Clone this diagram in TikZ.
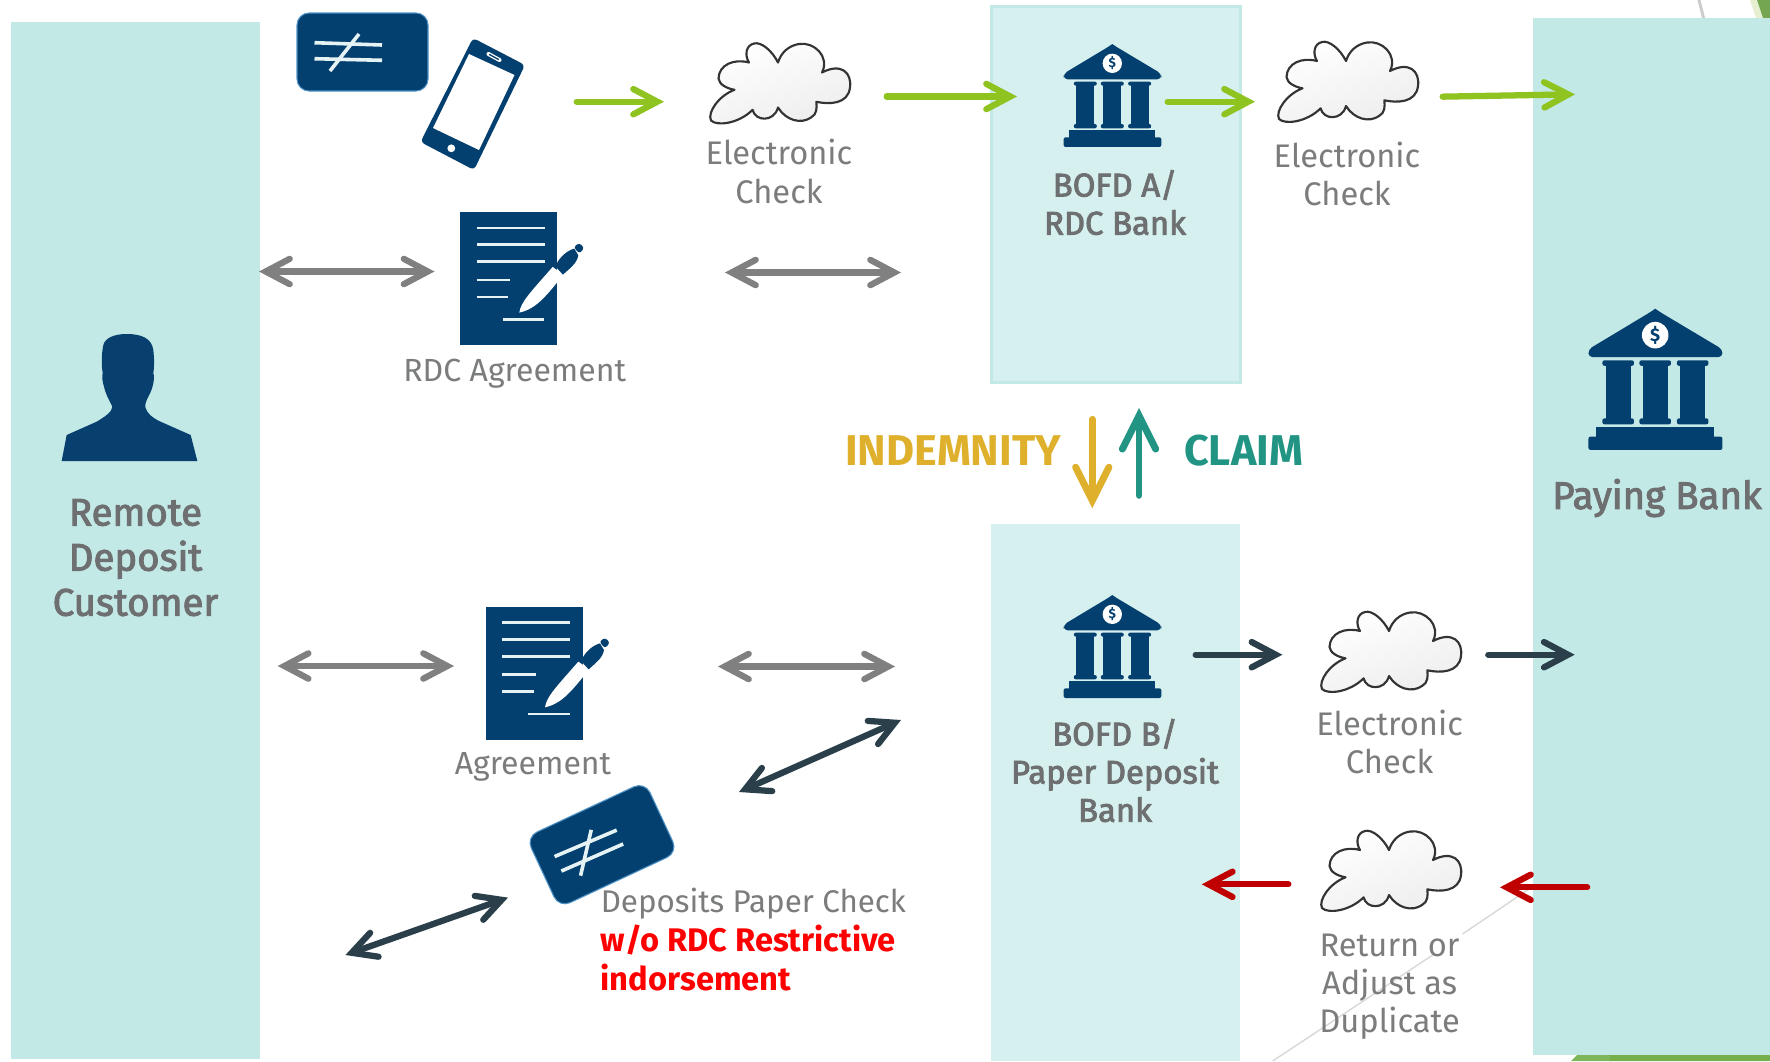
\documentclass[tikz,border=0pt]{standalone}
\usepackage{fontspec}
\setmainfont{Fira Sans}
\newfontfamily\semi[FakeBold=2.6]{Fira Sans}
\usetikzlibrary{arrows.meta}
\definecolor{panel}{HTML}{C3E9E6}
\definecolor{panelL}{HTML}{D5F0EF}
\definecolor{navy}{HTML}{04406F}
\definecolor{cardedge}{HTML}{4F94C8}
\definecolor{icw}{HTML}{E6F3F5}
\definecolor{gtxt}{HTML}{7B7C7D}
\definecolor{gbold}{HTML}{6E6F70}
\definecolor{arrG}{HTML}{8FC31F}
\definecolor{arrK}{HTML}{808080}
\definecolor{arrD}{HTML}{2A3F4A}
\definecolor{arrR}{HTML}{C00000}
\definecolor{yel}{HTML}{DEB02C}
\definecolor{teal2}{HTML}{219483}
\definecolor{grnA}{HTML}{E6EFCF}
\definecolor{grnB}{HTML}{74A550}
\definecolor{grnC}{HTML}{7FB55A}
\definecolor{grnD}{HTML}{76B04A}
\definecolor{person}{HTML}{07406F}
\newcommand{\fs}[2]{\fontsize{#1}{#2}\selectfont}
\tikzset{
  x=0.75pt,y=-0.75pt,
  tipS/.tip={Straight Barb[length=18pt,width=19pt,line cap=round,line join=miter]},
  tipB/.tip={Straight Barb[length=25pt,width=25pt,line cap=round,line join=miter]},
  arr/.style={line width=4.7pt,line cap=round,shorten <=2pt,-{tipS}},
  arr2/.style={line width=4.7pt,{tipS}-{tipS}},
  arrbig/.style={line width=5.2pt,line cap=round,shorten <=2pt,-{tipB}},
  body/.style={text=gtxt,align=center,font=\fs{24.5}{28.6}},
  bodyN/.style={text=gtxt,align=center,font=\fs{24}{28.6}},
  bold/.style={text=gbold,align=center,font=\fs{24.6}{28.6}\semi},
  big/.style={text=gbold,align=center,font=\fs{28.8}{33.8}\semi},
  icl/.style={draw=icw,line width=2.7pt},
  cloud2/.pic={
    \path[draw=black!80,line width=1.6pt,line join=round,shading=axis,left color=white,right color=black!7,shading angle=20]
      (145.5,77.3) .. controls (130,83) and (118,100) .. (122,108)
      .. controls (128,114) and (150,111) .. (163.6,97.3)
      .. controls (166,109) and (185,110) .. (189,95)
      .. controls (197,108) and (212,112) .. (222,105)
      .. controls (228,102) and (228,95) .. (227.3,89.3)
      .. controls (240,92) and (259,92) .. (261,75)
      .. controls (263,60) and (252,50) .. (233,60)
      .. controls (241,44) and (225,29) .. (210,31.5)
      .. controls (200,33) and (192,40) .. (189,50)
      .. controls (183,38) and (172,29) .. (165,31)
      .. controls (156,33) and (156,44) .. (160,50)
      .. controls (145,46) and (130,52) .. (129.5,66)
      .. controls (130,72) and (138,76) .. (145.5,77.3) -- cycle;
  },
  card/.pic={
    \draw[fill=navy,draw=cardedge,line width=0.8pt,rounded corners=9pt] (-65.5,-39) rectangle (65.5,39);
    \draw[icl] (-48,-9.3) -- (19.5,-7);
    \draw[icl] (-48,6.7) -- (19.5,8.3);
    \draw[icl] (-3.5,-18) -- (-32.5,19);
  },
  doc/.pic={
    \fill[navy] (17,20) rectangle (308,419);
    \foreach \a/\b/\c in {67/271/68,67/271/118,67/271/169,67/167/224,67/162/275,145/270/342}
      \draw[icw,line width=2pt] (\a,\c) -- (\b,\c);
    \fill[white] (195,322) .. controls (200,290) and (225,265) .. (295,185) -- (328,208)
      .. controls (280,265) and (250,310) .. (195,322) -- cycle;
    \fill[navy] (303,183) .. controls (315,155) and (340,135) .. (360,130) -- (372,150)
      .. controls (368,175) and (345,190) .. (326,208) -- cycle;
    \fill[navy,rounded corners=2pt] (358,125) -- (375,113) -- (390,128) -- (375,145) -- cycle;
  },
  bank/.pic={
    \fill[navy,rounded corners=3pt] (-146,103) -- (-146,86) -- (-3,0) -- (3,0) -- (147,86) -- (147,103) -- cycle;
    \fill[navy] (0,-3) -- (15,8) -- (-15,8) -- cycle;
    \fill[white] (0,55) circle (29);
    \node[text=navy,font=\fs{30}{32}\bfseries,transform shape] (dollar) at (0,55) {\$};
    \foreach \c in {-81,0,82}{
      \fill[navy,rounded corners=1.5pt] (\c-34.5,110) rectangle (\c+34.5,122);
      \fill[navy] (\c-27,120) rectangle (\c+27,239);
      \fill[navy,rounded corners=1.5pt] (\c-34.5,237) rectangle (\c+34.5,250);
    }
    \fill[navy] (-129,256) rectangle (129,280);
    \fill[navy,rounded corners=1.5pt] (-146,277) rectangle (147,306);
  },
}
\begin{document}
\begin{tikzpicture}
\useasboundingbox (0,0) rectangle (1770,1061);
\fill[white] (0,0) rectangle (1770,1061);
% page decoration behind the panels
\fill[black!20] (1697.5,0) -- (1700.5,0) -- (1705,18) -- (1702,18) -- cycle;
\fill[grnA] (1750,0) -- (1757,0) -- (1763,18) -- (1756,18) -- cycle;
\fill[grnB] (1757,0) -- (1770,0) -- (1770,18) -- (1763,18) -- cycle;
\fill[grnC] (1571,1061) -- (1577,1055) -- (1610,1055) -- (1608,1061) -- cycle;
\fill[grnD] (1608,1061) -- (1610,1055) -- (1770,1055) -- (1770,1061) -- cycle;
\draw[black!15,line width=1.1pt] (1272.7,1061) -- (1432.7,955);
\draw[black!15,line width=1.1pt] (1462.5,934) -- (1529,889);
% panels
\fill[panel] (11,22) rectangle (260,1059);
\fill[panel] (1533,18) rectangle (1770,1055);
\draw[draw=panel,fill=panelL,line width=2pt] (991.5,6.5) rectangle (1240.5,382.5);
\fill[panelL] (991,524) rectangle (1240,1061);
% person
\begin{scope}[shift={(0,300)},x=0.25pt,y=-0.25pt]
\fill[person] (185,483) -- (200,405) -- (290,365) .. controls (315,350) and (337,335) .. (337,320)
 .. controls (325,295) and (318,285) .. (312,260) .. controls (307,245) and (306,232) .. (308,218)
 .. controls (305,200) and (303,170) .. (310,135) .. controls (315,115) and (340,102) .. (380,102)
 .. controls (425,102) and (455,115) .. (460,150) .. controls (463,180) and (463,200) .. (460,220)
 .. controls (465,230) and (460,265) .. (445,290) .. controls (437,305) and (435,315) .. (436,322)
 .. controls (445,345) and (455,350) .. (475,362) -- (572,405) -- (592,483) -- cycle;
\end{scope}
% icons
\pic (cardA) at (362.5,52) {card};
\pic (cardB) [rotate=25] at (602,844.7) {card};
\fill[navy,rounded corners=3pt] (473,38) -- (525,65) -- (474,170) -- (420.5,142) -- cycle;
\fill[white] (469,54) -- (514.5,75) -- (479,150) -- (433,128) -- cycle;
\fill[white] (451.3,148.3) circle (3.9);
\draw[white,line width=3pt,line cap=round] (488.5,54) -- (499.5,60);
\draw[navy,line width=1pt,line cap=round] (489.5,54.5) -- (498.5,59.5);
\pic (docA) at (454.3,205.3) [scale=0.3333] {doc};
\pic (docB) at (480,600) [scale=0.3333] {doc};
\pic (bankA) at (1112.3,45) [scale=0.3333] {bank};
\pic (bankB) at (1112.3,596) [scale=0.3333] {bank};
\pic (bankP) at (1655.2,310) [scale=0.4572] {bank};
\pic (cloudA) at (589,12.5) {cloud2};
\pic (cloudB) at (1157,11) {cloud2};
\pic (cloudC) at (1200,581) {cloud2};
\pic (cloudD) at (1200,800) {cloud2};
% labels
\node[big] (tCust) at (135.5,557.6) {Remote\\Deposit\\Customer};
\node[big] (tPay) at (1657,498) {Paying Bank};
\node[body] (tE1) at (779,171.5) {Electronic\\Check};
\node[body] (tE2) at (1347,174) {Electronic\\Check};
\node[body] (tE3) at (1389.6,742) {Electronic\\Check};
\node[body] (tRet) at (1389.6,987) {Return or\\Adjust as\\Duplicate};
\node[bodyN] (tRA) at (514.7,374) {RDC Agreement};
\node[bodyN] (tAg) at (533,766.5) {Agreement};
\node[bold] (tA) at (1115,202.5) {BOFD A/\\RDC Bank};
\node[bold] (tB) at (1115,770.5) {BOFD B/\\Paper Deposit\\Bank};
\node[text=gtxt,font=\fs{23.5}{28.6},anchor=west,inner sep=0pt] (tDP) at (600.5,904) {Deposits Paper Check};
\node[text=red,align=left,anchor=north west,inner sep=0pt,font=\fs{24.5}{28.6}\bfseries] (tRed) at (600.5,925) {w/o RDC Restrictive\\indorsement};
\node[text=yel,font=\fs{32.3}{38}\bfseries] (tInd) at (953,451) {INDEMNITY};
\node[text=teal2,font=\fs{32.3}{38}\bfseries] (tCl) at (1243.5,451) {CLAIM};
% connector ends
\coordinate (g1a) at (574,101.7); \coordinate (g1b) at (664,101.7);
\coordinate (g2a) at (884,96.5);  \coordinate (g2b) at (1017,96.5);
\coordinate (g3a) at (1165,101.7);\coordinate (g3b) at (1255,101.7);
\coordinate (g4a) at (1440,96.7); \coordinate (g4b) at (1575,94.3);
\coordinate (k1a) at (259,271.5); \coordinate (k1b) at (434.5,271.5);
\coordinate (k2a) at (725,272.5); \coordinate (k2b) at (901,272.5);
\coordinate (k3a) at (277.7,666); \coordinate (k3b) at (454,666);
\coordinate (k4a) at (718,666.5); \coordinate (k4b) at (895,666.5);
\coordinate (d1a) at (739,792);   \coordinate (d1b) at (901,720);
\coordinate (d2a) at (345.4,955); \coordinate (d2b) at (508,897.6);
\coordinate (d3a) at (1193,654.7);\coordinate (d3b) at (1282.4,654.7);
\coordinate (d4a) at (1485.6,654.7);\coordinate (d4b) at (1574.7,654.7);
\coordinate (r1a) at (1291,884.3);\coordinate (r1b) at (1201.8,884.3);
\coordinate (r2a) at (1589.8,887.3);\coordinate (r2b) at (1500,887.3);
\coordinate (ya) at (1092.3,416.7);\coordinate (yb) at (1092.3,508.3);
\coordinate (ta) at (1139,498);   \coordinate (tb) at (1139,408);
% connectors
\foreach \p/\q in {g1a/g1b,g2a/g2b,g3a/g3b,g4a/g4b} \draw[arr,arrG] (\p) -- (\q);
\foreach \p/\q in {k1a/k1b,k2a/k2b,k3a/k3b,k4a/k4b} \draw[arr2,arrK] (\p) -- (\q);
\foreach \p/\q in {d1a/d1b,d2a/d2b} \draw[arr2,arrD] (\p) -- (\q);
\foreach \p/\q in {d3a/d3b,d4a/d4b} \draw[arr,arrD] (\p) -- (\q);
\foreach \p/\q in {r1a/r1b,r2a/r2b} \draw[arr,arrR] (\p) -- (\q);
\draw[arrbig,yel] (ya) -- (yb);
\draw[arrbig,teal2] (ta) -- (tb);
\end{tikzpicture}
\end{document}
